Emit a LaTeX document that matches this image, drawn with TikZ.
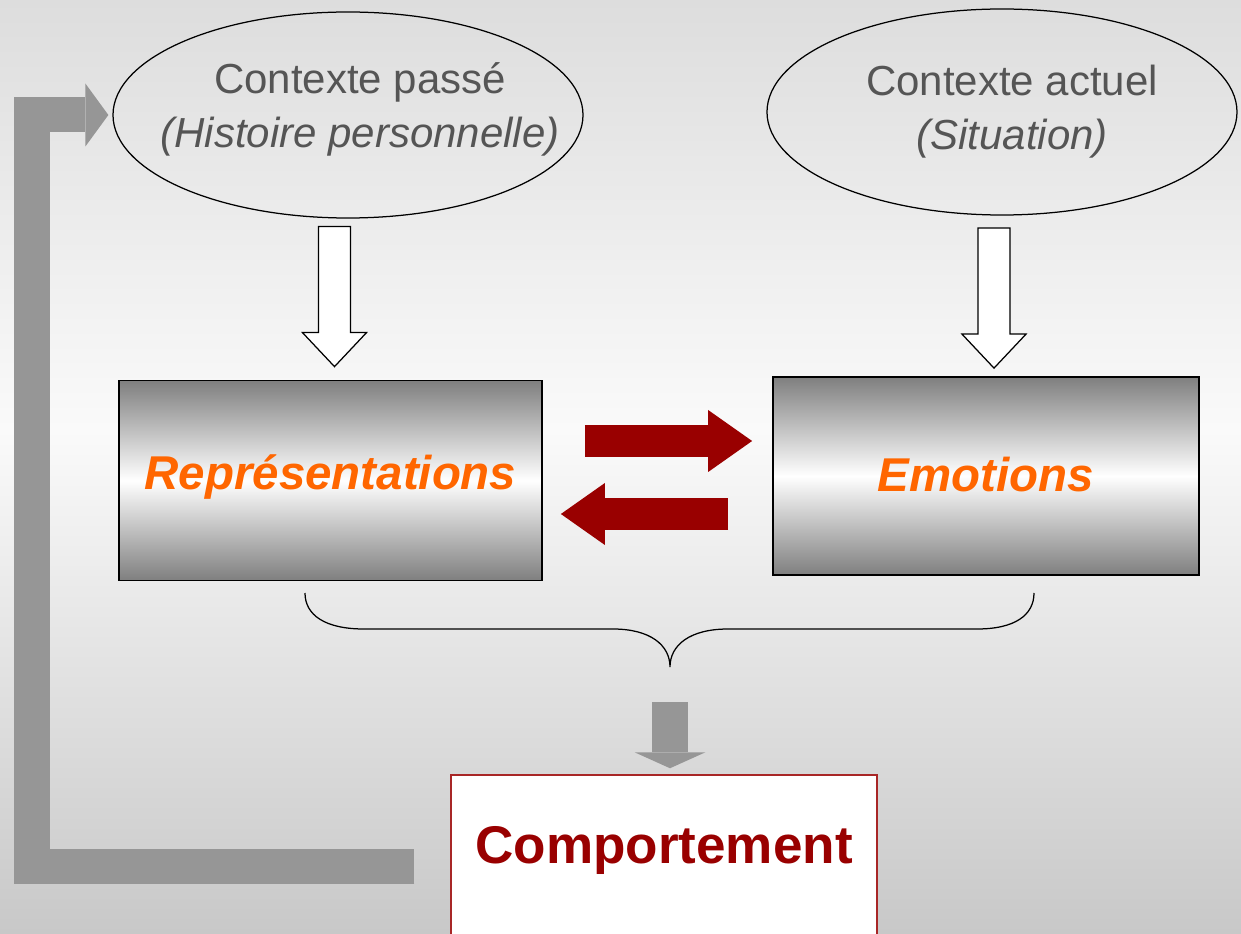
\documentclass[tikz,border=0pt]{standalone}
\usepackage{fontspec}
\setmainfont{Liberation Sans}
\usepackage{xcolor}
\usetikzlibrary{positioning, arrows.meta, shapes.geometric, calc}
\definecolor{ctxgray}{HTML}{555555}
\definecolor{reporange}{HTML}{FF6600}
\definecolor{darkred}{HTML}{990000}
\definecolor{arrgray}{HTML}{969696}
\definecolor{boxgray}{HTML}{7F7F7F}
\definecolor{bgtop}{HTML}{DDDDDD}
\definecolor{bgmid}{HTML}{FAFAFA}
\definecolor{bgbot}{HTML}{C8C8C8}
\pgfdeclareverticalshading{bgshade}{100bp}{color(0bp)=(bgbot); color(25bp)=(bgbot);
  color(52bp)=(bgmid); color(75bp)=(bgtop); color(100bp)=(bgtop)}
\pgfdeclareverticalshading{boxshade}{100bp}{color(0bp)=(boxgray); color(25bp)=(boxgray);
  color(50bp)=(white); color(75bp)=(boxgray); color(100bp)=(boxgray)}
\tikzset{
  ctx/.style={ellipse, draw=black, line width=0.25mm, minimum width=94mm,
              minimum height=41.2mm, inner sep=0pt},
  ctxtext/.style={align=center, text=ctxgray, inner sep=0pt,
                  font=\fontsize{23.9}{30.7}\selectfont},
  feelbox/.style={rectangle, draw=black, line width=0.35mm, shading=boxshade,
                  inner sep=0pt, text=reporange,
                  font=\fontsize{27}{32}\selectfont\bfseries\itshape},
  compbox/.style={rectangle, draw=darkred!85!white, line width=0.3mm, fill=white,
                  inner sep=0pt, minimum width=85.2mm, text=darkred,
                  font=\fontsize{30.2}{36}\selectfont\bfseries},
  wharr/.style={draw=black, fill=white, line width=0.25mm, line join=miter},
  redarr/.style={line width=6.4mm, color=darkred,
                 -{Triangle[length=8.8mm, width=12.4mm, line width=0pt]}},
  grarr/.style={line width=7.2mm, color=arrgray,
                -{Triangle[length=3.2mm, width=14.2mm, line width=0pt]}},
  fbarr/.style={line width=7mm, color=arrgray, line join=miter,
                -{Triangle[length=4.6mm, width=12.6mm, line width=0pt]}},
}
\begin{document}
\begin{tikzpicture}[x=0.2mm, y=-0.2mm]
    \useasboundingbox (0,0) rectangle (1241,934);
    \fill[shading=bgshade] (0,0) rectangle (1241,934);
    \node[ctx] (past) at (348,115) {};
    \node[ctx] (now) at (1002,112) {};
    \node[ctxtext] (pasttxt) at (360,109) {Contexte passé\\\textit{(Histoire personnelle)}};
    \node[ctxtext] (nowtxt) at (1012,111.5) {Contexte actuel\\\textit{(Situation)}};
    \node[feelbox, minimum width=84.6mm, minimum height=40mm,
          text height=7.6mm, text depth=4.2mm] (rep) at (330.5,480.5) {Représentations};
    \node[feelbox, minimum width=85.2mm, minimum height=39.6mm,
          text height=7.6mm, text depth=1.2mm] (emo) at (986,476) {Emotions};
    \node[compbox, text height=17.6mm, text depth=20.4mm, anchor=base]
          (comp) at (664,863) {Comportement};
    % context -> boxes
    \draw[wharr] ([shift={(4,-13)}]rep.north) -- ++(-32,-34) -- ++(16,0) -- ++(0,-106)
          -- ++(32,0) -- ++(0,106) -- ++(16,0) -- cycle;
    \draw[wharr] ([shift={(8,-8)}]emo.north) -- ++(-32,-34) -- ++(16,0) -- ++(0,-106)
          -- ++(32,0) -- ++(0,106) -- ++(16,0) -- cycle;
    % two way link
    \coordinate (ra) at ([yshift=7.9mm]rep.east);
    \coordinate (la) at ([yshift=-6.7mm]rep.east);
    \draw[redarr, shorten <=8.4mm, shorten >=4mm] (ra) -- (ra -| emo.west);
    \draw[redarr, shorten <=8.8mm, shorten >=3.6mm] (la -| emo.west) -- (la);
    % brace
    \draw[line width=0.25mm] (305,593) .. controls (305,615) and (325,629) .. (364,629)
          -- (613,629) .. controls (650,629) and (670,645) .. (670,667) coordinate (bt)
          .. controls (670,645) and (690,629) .. (728,629) -- (977,629)
          .. controls (1015,629) and (1034,615) .. (1034,593);
    \draw[grarr, shorten <=7mm, shorten >=1.2mm] (bt) -- (bt |- comp.north);
    % feedback
    \coordinate (fbturn) at (32,500);
    \draw[fbarr, shorten <=7.2mm, shorten >=0.8mm] ([yshift=0.7mm]comp.west) -| (fbturn) |- (past.west);
\end{tikzpicture}
\end{document}
